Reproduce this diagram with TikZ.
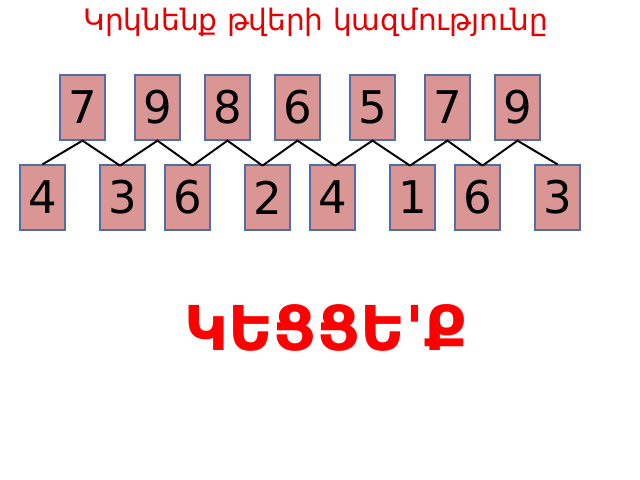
\documentclass[tikz,border=0pt]{standalone}
\usepackage{fontspec}
\setmainfont{DejaVu Sans}
\newfontfamily\wordfont{DejaVu Sans}[Ligatures=TeXOff]
\usetikzlibrary{calc}
\definecolor{boxfill}{RGB}{217,150,148}
\definecolor{boxline}{RGB}{80,110,165}
\definecolor{titlered}{RGB}{230,0,0}
\tikzset{numbox/.style={draw=boxline, fill=boxfill, line width=0.9pt, minimum width=1.125cm, minimum height=1.625cm, inner sep=0pt, font=\fontsize{32}{32}\selectfont}}

\begin{document}
\begin{tikzpicture}[x=0.025cm, y=-0.025cm]
				\useasboundingbox (0,0) rectangle (640,480);
				
				\node[text=titlered, font=\fontsize{21}{21}\selectfont] (title) at (316,22) {Կրկնենք թվերի կազմությունը};
				
				\node[numbox] (t1) at (82.5,107.5) {7};
				\node[numbox] (t2) at (157.5,107.5) {9};
				\node[numbox] (t3) at (227.5,107.5) {8};
				\node[numbox] (t4) at (297.5,107.5) {6};
				\node[numbox] (t5) at (372.5,107.5) {5};
				\node[numbox] (t6) at (447.5,107.5) {7};
				\node[numbox] (t7) at (517.5,107.5) {9};
				
				\node[numbox] (b1) at (42.5,197.5) {4};
				\node[numbox] (b2) at (122.5,197.5) {3};
				\node[numbox] (b3) at (187.5,197.5) {6};
				\node[numbox] (b4) at (267.5,197.5) {2};
				\node[numbox] (b5) at (332.5,197.5) {4};
				\node[numbox] (b6) at (412.5,197.5) {1};
				\node[numbox] (b7) at (477.5,197.5) {6};
				\node[numbox] (b8) at (557.5,197.5) {3};
				
				% joints on top of the lower row
				\coordinate (j1) at ($(t1.south)!0.5!(t2.south)+(0,25)$);
				\coordinate (j2) at ($(t2.south)!0.5!(t3.south)+(0,25)$);
				\coordinate (j3) at ($(t3.south)!0.5!(t4.south)+(0,25)$);
				\coordinate (j4) at ($(t4.south)!0.5!(t5.south)+(0,25)$);
				\coordinate (j5) at ($(t5.south)!0.5!(t6.south)+(0,25)$);
				\coordinate (j6) at ($(t6.south)!0.5!(t7.south)+(0,25)$);
				
				\draw[line width=1.4pt] (b1.north) -- (t1.south) -- (j1);
				\draw[line width=1.4pt] (j1) -- (t2.south) -- (j2);
				\draw[line width=1.4pt] (j2) -- (t3.south) -- (j3);
				\draw[line width=1.4pt] (j3) -- (t4.south) -- (j4);
				\draw[line width=1.4pt] (j4) -- (t5.south) -- (j5);
				\draw[line width=1.4pt] (j5) -- (t6.south) -- (j6);
				\draw[line width=1.4pt] (j6) -- (t7.south) -- (b8.north);
				
				\node[text=red, font=\wordfont\bfseries\fontsize{44}{44}\selectfont] (word) at (326,328) {ԿԵՑՑԵ'Ք};
			\end{tikzpicture}
\end{document}
